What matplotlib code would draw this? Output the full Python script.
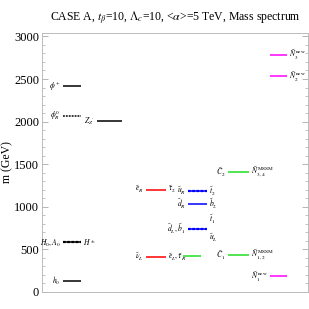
import matplotlib.pyplot as plt
from matplotlib.ticker import MultipleLocator

plt.rcParams['mathtext.fontset'] = 'stix'
plt.rcParams['font.family'] = ['Liberation Serif', 'DejaVu Serif']

# mass levels (GeV), one list per group
higgs_masses = [125, 580, 2420]
higgs_left = ['$h_0$', '$H_0,A_0$', '$\\phi^+$']
higgs_right = ['', '$H^\\pm$', '']
phiR_mass = 2070
zp_mass = 2005

slepton_masses = [405, 1200]
slepton_left = ['$\\tilde{\\nu}_L$', '$\\tilde{e}_R$']
slepton_right = ['$\\tilde{e}_L,\\tilde{\\tau}_R$', '$\\tilde{\\tau}_2$']

squark_masses = [740, 1030, 1180]
squark_left = ['$\\tilde{d}_L,\\tilde{b}_1$', '$\\tilde{d}_R$', '$\\tilde{u}_R$']
squark_right = ['', '$\\tilde{b}_2$', '$\\tilde{t}_2$']
squark_dashed = [True, False, True]
bino_mass = 422

chargino_masses = [432, 1402]
chargino_left = ['$\\tilde{C}_1$', '$\\tilde{C}_2$']
chargino_right = ['$\\tilde{N}^{\\,\\mathrm{MSSM}}_{1,2}$', '$\\tilde{N}^{\\,\\mathrm{MSSM}}_{3,4}$']

new_neut_masses = [180, 2530, 2785]
new_neut_left = ['$\\tilde{N}^{\\,\\mathrm{new}}_1$', '', '']
new_neut_right = ['', '$\\tilde{N}^{\\,\\mathrm{new}}_2$', '$\\tilde{N}^{\\,\\mathrm{new}}_3$']

fig = plt.figure(figsize=(3.09, 3.09), dpi=100)
ax = fig.add_axes([0.136, 0.056, 0.861, 0.837])

fs = 5.5
gap = 0.12


def level(x0, x1, m, color, left='', right='', dashed=False, solid=True, lw=1.1):
    if solid:
        ax.plot([x0, x1], [m, m], color=color, lw=lw, solid_capstyle='butt')
    if dashed:
        ax.plot([x0, x1], [m, m], color=color, lw=lw + 0.5, ls=(0, (1.2, 0.7)))
    if left:
        ax.text(x0 - gap, m, left, ha='right', va='center', fontsize=fs)
    if right:
        ax.text(x1 + gap, m, right, ha='left', va='center', fontsize=fs)


# Higgs column
for m, l, r in zip(higgs_masses, higgs_left, higgs_right):
    level(1.05, 1.95, m, 'black', l, r, dashed=(r != ''))
level(1.05, 1.95, phiR_mass, 'black', '$\\phi^0_R$', dashed=True, solid=False, lw=0.6)

# Z'
level(2.75, 4.0, zp_mass, 'black', "$Z_{Z'}$")

# sleptons
for m, l, r in zip(slepton_masses, slepton_left, slepton_right):
    level(5.2, 6.2, m, 'red', l, r)

# squarks
for m, l, r, d in zip(squark_masses, squark_left, squark_right, squark_dashed):
    level(7.3, 8.25, m, 'blue', l, r, dashed=d)
ax.text(8.25 + gap, squark_masses[0] + 110, '$\\tilde{t}_1$', ha='left', va='center', fontsize=fs)
ax.text(8.25 + gap, squark_masses[0] - 110, '$\\tilde{u}_L$', ha='left', va='center', fontsize=fs)
level(7.05, 7.95, bino_mass, '#22dd22')

# charginos / MSSM neutralinos
for m, l, r in zip(chargino_masses, chargino_left, chargino_right):
    level(9.3, 10.35, m, '#22dd22', l, r)

# new neutralinos
for m, l, r in zip(new_neut_masses, new_neut_left, new_neut_right):
    level(11.4, 12.25, m, '#ff00ff', l, r)

ax.set_xlim(0, 13.3)
ax.set_ylim(0, 3040)
ax.set_xticks([])
ax.yaxis.set_major_locator(MultipleLocator(500))
ax.yaxis.set_minor_locator(MultipleLocator(100))
ax.tick_params(axis='y', which='both', direction='in', right=True, colors='#aaaaaa',
               labelcolor='black', labelsize=9, pad=2)
ax.tick_params(axis='y', which='major', length=4, width=0.6)
ax.tick_params(axis='y', which='minor', length=2, width=0.5)
for s in ax.spines.values():
    s.set_color('#bbbbbb')
    s.set_linewidth(0.7)
ax.set_ylabel('m (GeV)', fontsize=8.5, labelpad=1)
ax.set_title('CASE A, $t_\\beta$=10, $\\Lambda_c$=10, <$\\alpha$>=5 TeV, Mass spectrum',
             fontsize=8.5, pad=9)

fig.savefig('out.png', dpi=100)
